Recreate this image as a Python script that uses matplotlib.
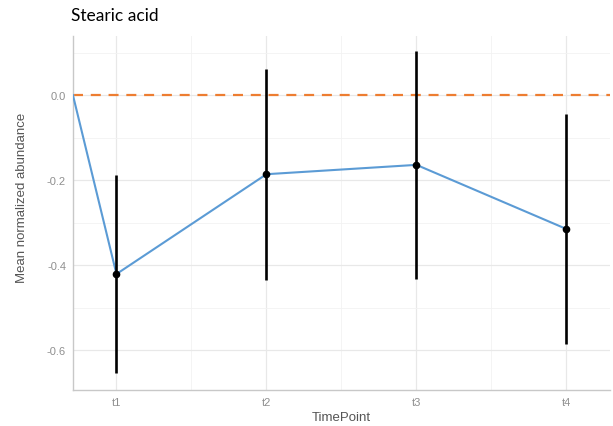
import numpy as np
import matplotlib
matplotlib.use("Agg")
from matplotlib import pyplot as plt
from matplotlib.ticker import MultipleLocator, FixedLocator

plt.rcParams["font.family"] = ["Liberation Sans", "DejaVu Sans"]

# data
timepoints = ["t1", "t2", "t3", "t4"]
mean_abund = [-0.421, -0.186, -0.164, -0.315]
err_abund = [0.233, 0.248, 0.268, 0.271]
baseline_value = 0.0
x_left, x_right = 0.71, 4.29   # axis limits (line starts at the left edge)

x = np.arange(1, len(timepoints) + 1)

fig = plt.figure(figsize=(6.13, 4.27), dpi=100)
ax = fig.add_axes([0.119, 0.0843, 0.876, 0.8287])

# grid
ax.set_axisbelow(True)
ax.xaxis.set_major_locator(FixedLocator(x))
ax.xaxis.set_minor_locator(FixedLocator(x[:-1] + 0.5))
ax.yaxis.set_major_locator(MultipleLocator(0.2))
ax.yaxis.set_minor_locator(MultipleLocator(0.1))
ax.grid(which="major", color="#e8e8e8", lw=0.9)
ax.grid(which="minor", color="#f2f2f2", lw=0.6)

# reference line
ax.axhline(baseline_value, color="#ED7D31", lw=1.6, ls=(0, (4.5, 3.5)), zorder=2)

# mean line, from baseline at the left edge
line_x = np.concatenate([[x_left], x])
line_y = np.concatenate([[baseline_value], mean_abund])
ax.plot(line_x, line_y, color="#5B9BD5", lw=1.5, zorder=3)

# error bars + points
ax.errorbar(x, mean_abund, yerr=err_abund, fmt="none", ecolor="black",
            elinewidth=1.9, capsize=0, zorder=4)
ax.plot(x, mean_abund, "o", color="black", ms=4.5, zorder=5)

ax.set_xlim(x_left, x_right)
ax.set_ylim(-0.694, 0.139)
ax.set_xticks(x)
ax.set_xticklabels(timepoints)
ax.set_yticks([0.0, -0.2, -0.4, -0.6])
ax.set_yticklabels(["0.0", "-0.2", "-0.4", "-0.6"])

for side in ["top", "right"]:
    ax.spines[side].set_visible(False)
for side in ["left", "bottom"]:
    ax.spines[side].set_color("#c8c8c8")
    ax.spines[side].set_linewidth(1.0)

ax.tick_params(which="both", length=0, labelsize=8, labelcolor="#8f8f8f", pad=5)
ax.set_xlabel("TimePoint", fontsize=9.5, color="#555555", labelpad=3)
ax.set_ylabel("Mean normalized abundance", fontsize=9.5, color="#555555")
ax.yaxis.set_label_coords(-0.084, 0.545)

fig.text(0.116, 0.951, "Stearic acid", fontsize=12.5, family="Lato",
         color="black", ha="left", va="baseline")

fig.savefig("out.png", dpi=100)
